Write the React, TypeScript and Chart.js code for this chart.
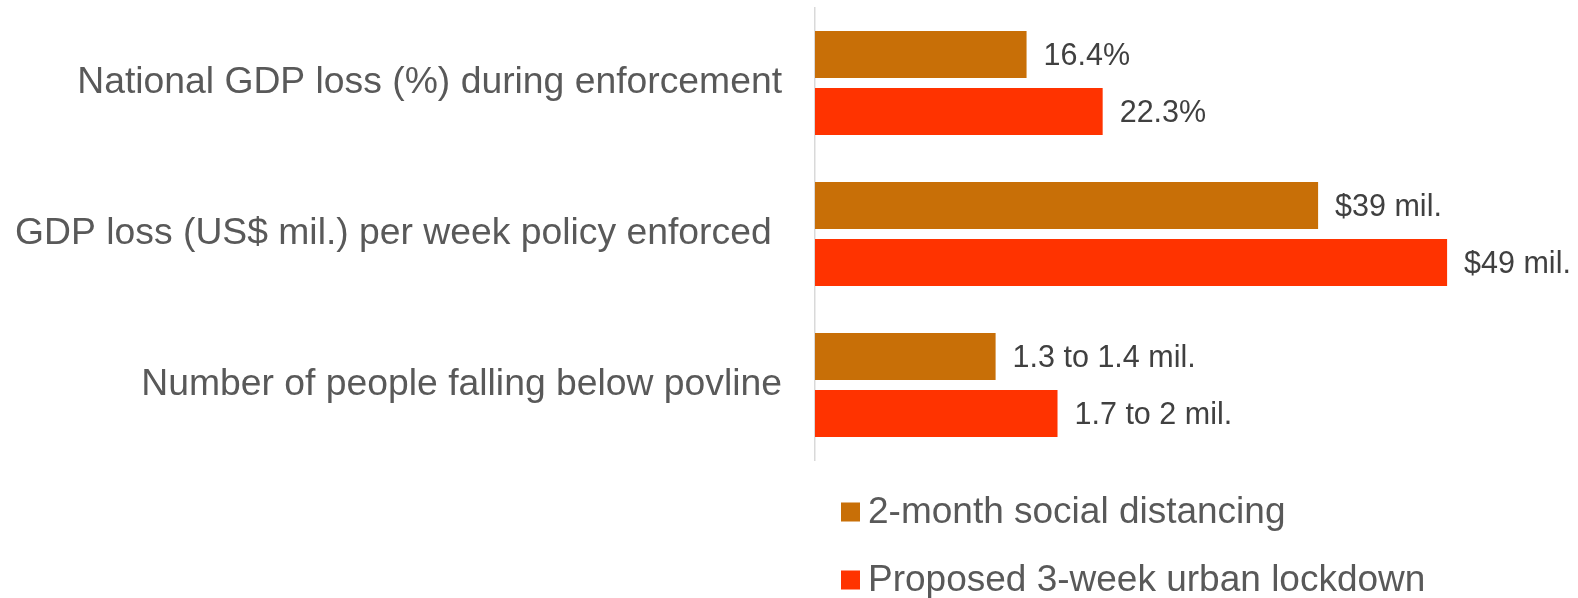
import React, { useEffect, useRef } from "react";
import { Chart, registerables } from "chart.js";

Chart.register(...registerables);

const categories = [
  "National GDP loss (%) during enforcement",
  "GDP loss (US$ mil.) per week policy enforced ",
  "Number of people falling below povline",
];
const seriesNames = ["2-month social distancing", "Proposed 3-week urban lockdown"];
const socialDistancing = [16.4, 39, 14];
const urbanLockdown = [22.3, 49, 18.8];
const socialLabels = ["16.4%", "$39 mil.", "1.3 to 1.4 mil."];
const lockdownLabels = ["22.3%", "$49 mil.", "1.7 to 2 mil."];
const seriesColors = ["#C86F07", "#FF3300"];

const FONT = "'Liberation Sans', Arial, sans-serif";

const valueLabelPlugin = {
  id: "valueLabels",
  afterDatasetsDraw(chart: any) {
    const ctx = chart.ctx;
    ctx.save();
    ctx.font = `30.5px ${FONT}`;
    ctx.fillStyle = "#404040";
    ctx.textAlign = "left";
    ctx.textBaseline = "middle";
    const allLabels = [socialLabels, lockdownLabels];
    chart.data.datasets.forEach((_ds: any, di: number) => {
      const meta = chart.getDatasetMeta(di);
      meta.data.forEach((el: any, i: number) => {
        ctx.fillText(allLabels[di][i], el.x + 17, el.y + 2);
      });
    });
    ctx.restore();
  },
};

const legendPlugin = {
  id: "customLegend",
  afterDraw(chart: any) {
    const ctx = chart.ctx;
    ctx.save();
    ctx.font = `37px ${FONT}`;
    ctx.textAlign = "left";
    ctx.textBaseline = "middle";
    const x = 841;
    const rowY = [512, 580];
    const box = 19;
    chart.data.datasets.forEach((ds: any, di: number) => {
      const y = rowY[di];
      ctx.fillStyle = ds.backgroundColor;
      ctx.fillRect(x, y - box / 2, box, box);
      ctx.fillStyle = "#595959";
      ctx.fillText(ds.label, x + 27, y + 1);
    });
    ctx.restore();
  },
};

export default function App() {
  const canvasRef = useRef<HTMLCanvasElement | null>(null);

  useEffect(() => {
    if (!canvasRef.current) return;
    const chart = new Chart(canvasRef.current, {
      type: "bar",
      data: {
        labels: categories,
        datasets: [
          {
            label: seriesNames[0],
            data: socialDistancing,
            backgroundColor: seriesColors[0],
            borderWidth: 0,
            categoryPercentage: 0.755,
            barPercentage: 0.825,
          },
          {
            label: seriesNames[1],
            data: urbanLockdown,
            backgroundColor: seriesColors[1],
            borderWidth: 0,
            categoryPercentage: 0.755,
            barPercentage: 0.825,
          },
        ],
      },
      options: {
        indexAxis: "y",
        responsive: false,
        animation: false,
        layout: { padding: { top: 7.5, bottom: 137.5, left: 0, right: 118 } },
        plugins: {
          legend: { display: false },
          tooltip: { enabled: false },
        },
        scales: {
          x: {
            display: false,
            min: 0,
            max: 50,
          },
          y: {
            afterFit: (scale: any) => {
              scale.width = 815;
              scale.paddingTop = 0;
              scale.paddingBottom = 0;
            },
            grid: { display: false, drawTicks: false },
            border: { display: true, color: "#D9D9D9", width: 1.5 },
            ticks: {
              color: "#595959",
              font: { family: FONT, size: 37.3 },
              padding: 33,
            },
          },
        },
      },
      plugins: [valueLabelPlugin, legendPlugin],
    });
    return () => chart.destroy();
  }, []);

  return (
    <div style={{ position: "absolute", left: 0, top: 0, width: 1578, height: 598, background: "#fff" }}>
      <canvas ref={canvasRef} width={1578} height={598} style={{ display: "block" }} />
    </div>
  );
}
